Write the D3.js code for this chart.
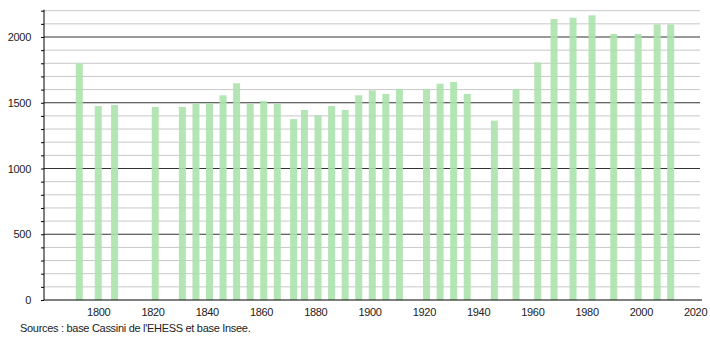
<!DOCTYPE html>
<html>
<head>
<meta charset="utf-8">
<script src="https://cdn.jsdelivr.net/npm/d3@7.9.0/dist/d3.min.js"></script>
<style>
  body { margin: 0; background: #fff; }
  svg text { font-family: "Liberation Sans", Arial, sans-serif; font-size: 11px; fill: #222; letter-spacing: -0.3px; }
</style>
</head>
<body>
<svg width="710" height="340"></svg>
<script>
const years = [1793, 1800, 1806, 1821, 1831, 1836, 1841, 1846, 1851, 1856, 1861, 1866,
  1872, 1876, 1881, 1886, 1891, 1896, 1901, 1906, 1911, 1921, 1926, 1931, 1936,
  1946, 1954, 1962, 1968, 1975, 1982, 1990, 1999, 2006, 2011];
const population = [1800, 1475, 1483, 1468, 1468, 1496, 1496, 1557, 1648, 1493, 1513, 1493,
  1376, 1445, 1404, 1475, 1445, 1557, 1594, 1567, 1605, 1605, 1645, 1658, 1567,
  1364, 1605, 1807, 2137, 2147, 2165, 2023, 2023, 2096, 2096];
const xTicks = [1800, 1820, 1840, 1860, 1880, 1900, 1920, 1940, 1960, 1980, 2000, 2020];
const yMajor = [0, 500, 1000, 1500, 2000];
const source = "Sources : base Cassini de l'EHESS et base Insee.";

const svg = d3.select("svg");
const mLeft = 44, mRight = 700, mTop = 10.7, mBottom = 300;

let x = d3.scaleLinear().domain([1780, 2021.8]).range([mLeft, mRight]);
let y = d3.scaleLinear().domain([0, 2200]).range([mBottom, mTop]);

// minor grid every 100
let minor = d3.range(100, 2201, 100).filter((v) => v % 500 !== 0);
svg.append("g").selectAll("line").data(minor).join("line")
  .attr("x1", mLeft).attr("x2", mRight)
  .attr("y1", (d) => y(d)).attr("y2", (d) => y(d))
  .attr("stroke", "#c8c8c8").attr("stroke-width", 1);
svg.append("g").selectAll("line").data(yMajor.slice(1)).join("line")
  .attr("x1", mLeft).attr("x2", mRight)
  .attr("y1", (d) => y(d)).attr("y2", (d) => y(d))
  .attr("stroke", "#333").attr("stroke-width", 1);

// bars
let defs = svg.append("defs");
defs.append("filter").attr("id", "soft")
  .append("feGaussianBlur").attr("stdDeviation", 0.5);
svg.append("g").attr("filter", "url(#soft)")
  .selectAll("rect").data(years).join("rect")
  .attr("x", (d) => x(d) - 3.5)
  .attr("width", 7)
  .attr("y", (d, i) => y(population[i]))
  .attr("height", (d, i) => mBottom - y(population[i]))
  .attr("fill", "#ace2ac")
  .attr("fill-opacity", 0.9);

// y axis
let yAxis = d3.axisLeft(y).tickValues(d3.range(0, 2201, 100))
  .tickSize(3).tickFormat((d) => (d % 500 === 0 ? d : ""));
let gy = svg.append("g").attr("transform", `translate(${mLeft},0)`).call(yAxis);
gy.select(".domain").attr("d", `M0,${mTop - 1}V${mBottom}`).attr("stroke", "#000");
gy.selectAll(".tick line").attr("stroke", "#000");
gy.selectAll(".tick text").attr("x", -13).style("font-size", "11px");

// x axis
let xAxis = d3.axisBottom(x).tickValues(xTicks).tickSize(0).tickFormat(d3.format("d"));
let gx = svg.append("g").attr("transform", `translate(0,${mBottom})`).call(xAxis);
gx.select(".domain").attr("d", `M${mLeft},0H${mRight + 2}`).attr("stroke", "#000");
gx.selectAll(".tick text").attr("y", 8).style("font-size", "11px");

svg.append("text").attr("x", 20).attr("y", 332).text(source);
</script>
</body>
</html>
